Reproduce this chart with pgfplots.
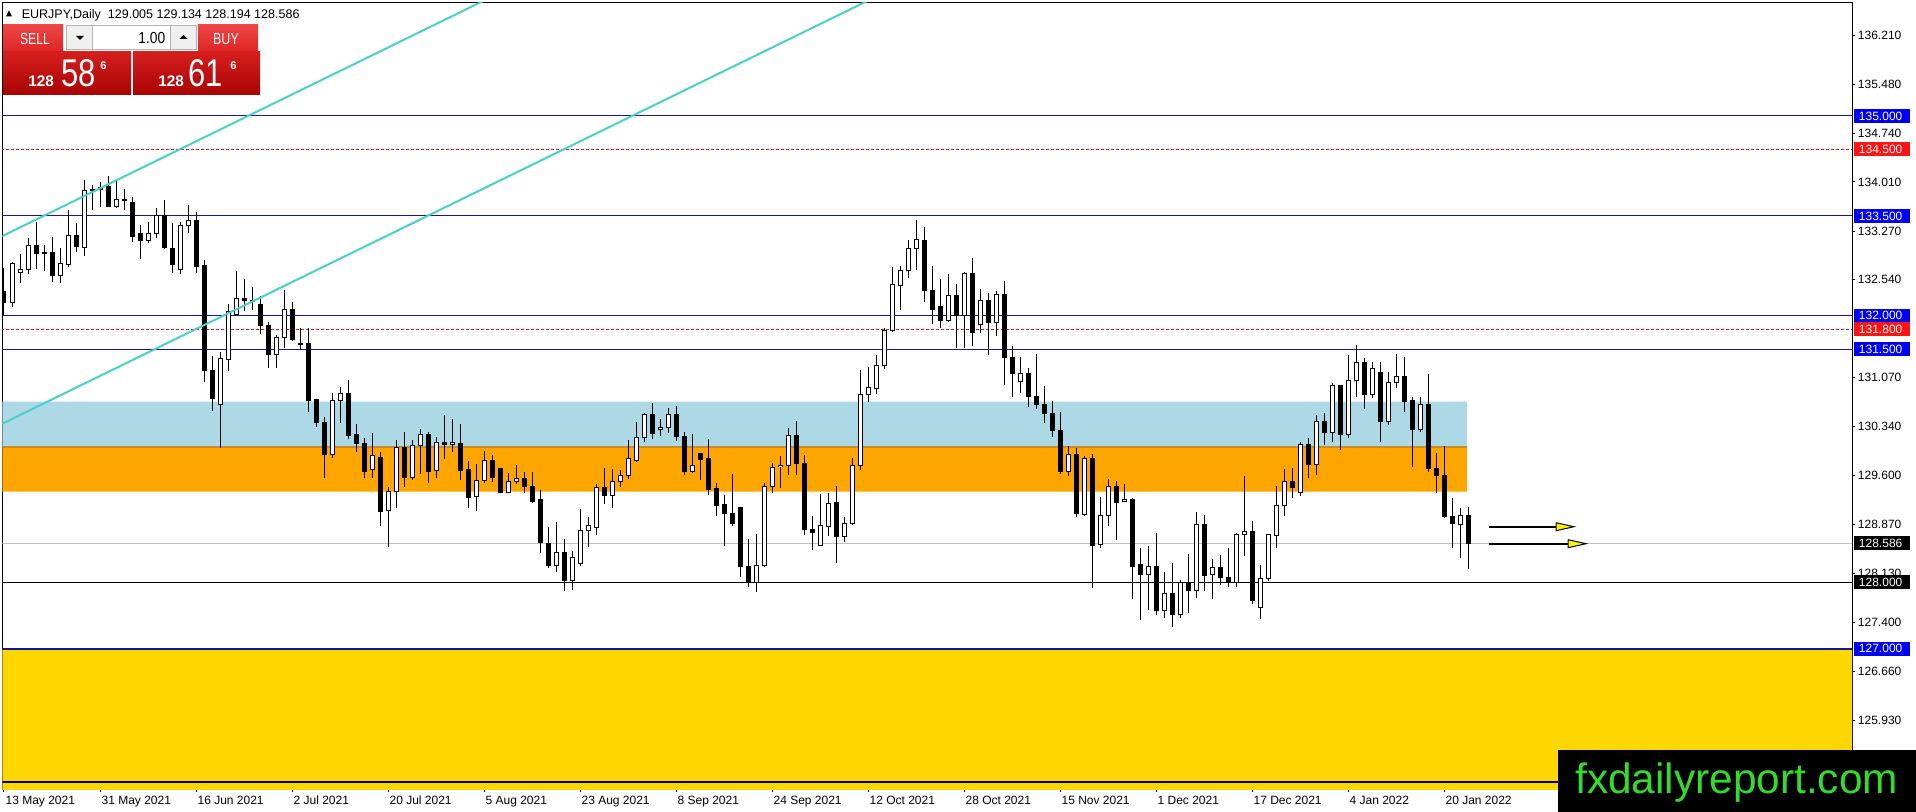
\documentclass[border=0pt]{standalone}
\usepackage{fontspec}
\setmainfont{Liberation Sans}
\usepackage{pgfplots}
\pgfplotsset{compat=1.18}
\usepackage{pgfplotstable}
\definecolor{mtblue}{RGB}{0,0,245}
\definecolor{lineblue}{RGB}{20,20,170}
\definecolor{mtred}{RGB}{250,20,20}
\definecolor{linered}{RGB}{220,20,20}
\definecolor{zoneblue}{RGB}{173,216,230}
\definecolor{zoneorange}{RGB}{255,165,0}
\definecolor{zoneedge}{RGB}{200,140,40}
\definecolor{zoneyellow}{RGB}{255,215,0}
\definecolor{chancyan}{RGB}{72,209,204}
\definecolor{wmgreen}{RGB}{50,220,40}
\definecolor{bidgray}{RGB}{192,192,192}
\definecolor{btnred}{RGB}{222,36,36}
\definecolor{btnredtop}{RGB}{238,70,70}
\definecolor{bigredtop}{RGB}{214,30,30}
\definecolor{bigredbot}{RGB}{168,4,4}

\pgfplotstableread{
i o h l c
0 132.362 132.713 132.012 132.202
1 132.202 132.813 132.137 132.778
2 132.653 132.923 132.488 132.698
3 132.698 133.173 132.633 133.048
4 133.048 133.403 132.698 132.933
5 132.953 133.063 132.673 132.933
6 132.953 133.183 132.513 132.603
7 132.603 133.013 132.488 132.778
8 132.763 133.589 132.738 133.213
9 133.213 133.388 132.963 133.038
10 133.028 134.039 132.903 133.874
11 133.874 133.964 133.589 133.889
12 133.889 134.014 133.639 133.924
13 133.939 134.099 133.639 133.639
14 133.639 134.039 133.614 133.739
15 133.744 133.904 133.589 133.729
16 133.704 133.779 133.113 133.188
17 133.238 133.363 132.853 133.128
18 133.128 133.403 133.098 133.238
19 133.238 133.614 133.173 133.499
20 133.499 133.739 133.003 133.023
21 133.013 133.388 132.638 132.773
22 132.698 133.403 132.623 133.363
23 133.353 133.664 133.248 133.433
24 133.433 133.554 132.648 132.738
25 132.748 132.838 131.001 131.176
26 131.176 131.396 130.571 130.761
27 130.661 131.451 130.010 131.361
28 131.346 132.172 131.171 132.062
29 132.022 132.673 132.012 132.262
30 132.262 132.553 132.072 132.232
31 132.212 132.437 132.087 132.237
32 132.177 132.302 131.727 131.852
33 131.852 131.912 131.221 131.421
34 131.421 131.712 131.221 131.677
35 131.677 132.387 131.521 132.087
36 132.087 132.202 131.622 131.637
37 131.587 131.812 131.487 131.572
38 131.587 131.812 130.561 130.721
39 130.736 130.736 130.335 130.395
40 130.400 130.485 129.560 129.910
41 129.910 130.836 129.860 130.721
42 130.721 130.936 130.395 130.836
43 130.836 131.036 130.150 130.210
44 130.220 130.370 129.960 130.085
45 130.085 130.160 129.560 129.660
46 129.685 130.235 129.570 129.895
47 129.875 129.950 128.849 129.059
48 129.079 129.434 128.534 129.359
49 129.359 130.135 129.109 130.020
50 130.020 130.250 129.434 129.575
51 129.575 130.135 129.535 130.050
52 130.060 130.300 129.620 130.220
53 130.225 130.260 129.494 129.660
54 129.670 130.185 129.560 130.100
55 130.105 130.510 129.845 130.070
56 130.070 130.445 129.960 130.105
57 130.085 130.375 129.534 129.675
58 129.685 129.825 129.109 129.274
59 129.284 129.775 129.074 129.534
60 129.534 129.970 129.494 129.820
61 129.820 129.910 129.510 129.570
62 129.710 129.710 129.334 129.344
63 129.349 129.635 129.334 129.519
64 129.519 129.760 129.469 129.560
65 129.560 129.660 129.334 129.434
66 129.434 129.650 129.184 129.209
67 129.249 129.384 128.443 128.594
68 128.584 128.834 128.208 128.248
69 128.248 128.899 128.158 128.448
70 128.448 128.644 127.873 128.033
71 128.033 128.468 127.883 128.373
72 128.283 129.099 128.248 128.769
73 128.774 128.984 128.534 128.844
74 128.824 129.474 128.709 129.424
75 129.424 129.720 129.174 129.299
76 129.299 129.695 129.109 129.519
77 129.509 129.685 129.434 129.595
78 129.595 130.135 129.544 129.850
79 129.825 130.401 129.810 130.175
80 130.170 130.536 130.110 130.511
81 130.511 130.686 130.145 130.235
82 130.295 130.446 130.200 130.325
83 130.325 130.611 130.245 130.511
84 130.511 130.646 130.125 130.185
85 130.195 130.260 129.610 129.660
86 129.660 130.225 129.635 129.745
87 129.925 129.925 129.535 129.845
88 129.850 130.145 129.309 129.385
89 129.400 129.485 128.994 129.159
90 129.174 129.309 128.549 129.024
91 129.034 129.625 128.844 128.874
92 129.124 129.124 128.073 128.233
93 128.243 128.644 127.933 127.993
94 127.993 128.724 127.858 128.253
95 128.248 129.485 128.233 129.435
96 129.435 129.795 129.335 129.725
97 129.735 129.895 129.420 129.755
98 129.750 130.310 129.610 130.210
99 130.210 130.421 129.610 129.785
100 129.785 129.910 128.709 128.784
101 128.794 128.994 128.484 128.744
102 128.549 129.325 128.549 128.844
103 128.834 129.345 128.694 129.184
104 129.199 129.445 128.283 128.684
105 128.684 128.984 128.609 128.884
106 128.874 129.860 128.859 129.750
107 129.750 131.186 129.685 130.821
108 130.821 131.226 130.701 130.926
109 130.911 131.411 130.826 131.261
110 131.251 131.822 131.196 131.772
111 131.772 132.738 131.762 132.472
112 132.462 132.748 132.087 132.673
113 132.673 133.138 132.573 133.003
114 133.003 133.438 132.688 133.138
115 133.123 133.328 132.212 132.377
116 132.387 132.748 131.872 132.097
117 132.147 132.553 131.812 131.927
118 131.927 132.628 131.912 132.312
119 132.312 132.478 131.512 131.997
120 131.997 132.663 131.512 132.628
121 132.628 132.873 131.552 131.747
122 131.872 132.397 131.737 132.237
123 132.237 132.337 131.412 131.897
124 131.902 132.372 131.702 132.327
125 132.327 132.522 130.961 131.371
126 131.376 131.552 130.786 131.136
127 131.011 131.386 130.836 131.136
128 131.136 131.211 130.626 130.786
129 130.786 131.426 130.601 130.671
130 130.671 130.951 130.386 130.536
131 130.536 130.721 130.185 130.275
132 130.285 130.550 129.625 129.660
133 129.660 130.050 129.595 129.920
134 129.920 130.010 128.984 129.034
135 129.019 129.895 128.994 129.860
136 129.860 129.925 127.918 128.549
137 128.559 129.274 128.509 128.999
138 128.999 129.550 128.844 129.434
139 129.434 129.525 128.634 129.199
140 129.219 129.475 129.199 129.244
141 129.249 129.269 127.743 128.233
142 128.273 128.509 127.433 128.118
143 128.118 128.544 127.583 128.243
144 128.243 128.734 127.508 127.573
145 127.573 128.158 127.458 127.833
146 127.823 128.283 127.322 127.518
147 127.508 128.033 127.458 127.998
148 127.998 128.418 127.543 127.873
149 127.873 129.049 127.758 128.869
150 128.869 129.009 127.873 128.098
151 128.118 128.343 127.748 128.218
152 128.223 128.408 127.958 128.073
153 128.073 128.518 127.933 127.998
154 127.998 128.744 127.933 128.719
155 128.719 129.594 128.398 128.759
156 128.759 128.919 127.673 127.718
157 127.623 128.258 127.447 128.058
158 128.058 128.720 128.020 128.709
159 128.699 129.444 128.509 129.159
160 129.149 129.700 129.000 129.519
161 129.519 129.710 129.269 129.419
162 129.349 130.110 129.299 130.075
163 130.075 130.160 129.560 129.770
164 129.770 130.510 129.610 130.420
165 130.420 130.535 130.060 130.250
166 130.250 130.986 130.110 130.946
167 130.946 130.961 129.985 130.220
168 130.220 131.411 130.170 131.021
169 131.021 131.562 130.786 131.301
170 131.301 131.361 130.601 130.821
171 130.821 131.301 130.761 131.211
172 131.151 131.301 130.110 130.410
173 130.410 131.151 130.360 131.001
174 131.001 131.421 130.911 131.086
175 131.086 131.386 130.561 130.711
176 130.721 130.786 129.735 130.295
177 130.295 130.776 130.250 130.661
178 130.671 131.121 129.650 129.710
179 129.710 129.935 129.334 129.600
180 129.600 130.050 128.969 128.984
181 128.984 129.259 128.509 128.884
182 128.869 129.109 128.359 128.999
183 129.005 129.134 128.194 128.586
}\candles

\begin{document}
\begin{tikzpicture}
\useasboundingbox (0,0) rectangle (1437pt,-609pt);
\begin{axis}[
  scale only axis,
  width=1387.125pt, height=589.725pt,
  at={(1.875pt,-2.025pt)}, anchor=north west,
  xmin=-0.1875, xmax=231, ymin=124.895, ymax=136.701,
  axis line style={black, line width=0.75pt},
  xtick={0,12,...,180},
  xticklabels={13 May 2021,31 May 2021,16 Jun 2021,2 Jul 2021,20 Jul 2021,5 Aug 2021,23 Aug 2021,8 Sep 2021,24 Sep 2021,12 Oct 2021,28 Oct 2021,15 Nov 2021,1 Dec 2021,17 Dec 2021,4 Jan 2022,20 Jan 2022},
  ytick={136.21,135.48,134.74,134.01,133.27,132.54,131.07,130.34,129.6,128.87,128.13,127.4,126.66,125.93},
  yticklabels={136.210,135.480,134.740,134.010,133.270,132.540,131.070,130.340,129.600,128.870,128.130,127.400,126.660,125.930},
  xtick pos=left, ytick pos=right, yticklabel pos=right,
  tick align=outside, major tick length=2.25pt,
  tick style={black, line width=0.75pt},
  ticklabel style={font=\fontsize{9}{10}\selectfont, inner sep=0pt},
  xticklabel style={anchor=north west, xshift=1pt, yshift=-3pt},
  yticklabel style={anchor=west, xshift=2pt},
  every axis plot/.append style={line cap=butt},
  candle/.style={draw=none, no marks, error bars/.cd, y dir=plus, y explicit, error mark=none, error bar style={solid, #1}},
]
% zones
\addplot [draw=none, fill=zoneblue] coordinates {(-1,130.04) (182.9,130.04) (182.9,130.71) (-1,130.71) (-1,130.04)};
\addplot [draw=none, fill=zoneorange] coordinates {(-1,129.36) (182.9,129.36) (182.9,130.04) (-1,130.04) (-1,129.36)};
\addplot [zoneedge, line width=1.5pt] coordinates {(-1,130.035) (182.9,130.035)};
\addplot [draw=none, fill=zoneyellow] coordinates {(-1,124.5) (240,124.5) (240,127.0) (-1,127.0) (-1,124.5)};
% horizontal levels
\addplot [lineblue, line width=0.75pt] coordinates {(-1,135) (240,135)};
\addplot [linered, line width=0.75pt, dash pattern=on 2.25pt off 1.5pt] coordinates {(-1,134.5) (240,134.5)};
\addplot [lineblue, line width=0.75pt] coordinates {(-1,133.5) (240,133.5)};
\addplot [lineblue, line width=0.75pt] coordinates {(-1,132) (240,132)};
\addplot [linered, line width=0.75pt, dash pattern=on 2.25pt off 1.5pt] coordinates {(-1,131.8) (240,131.8)};
\addplot [lineblue, line width=0.75pt] coordinates {(-1,131.5) (240,131.5)};
\addplot [bidgray, line width=0.75pt] coordinates {(-1,128.586) (240,128.586)};
\addplot [black, line width=0.75pt] coordinates {(-1,128) (240,128)};
\addplot [lineblue, line width=1.5pt] coordinates {(-1,127) (240,127)};
\addplot [black!70!blue, line width=1.5pt] coordinates {(-1,125.0) (240,125.0)};
% candle wicks
\addplot [candle={draw=black, line width=0.75pt}]
  table [x=i, y=l, y error expr={\thisrow{h}-\thisrow{l}}] {\candles};
% candle bodies
\addplot [candle={draw=black, line width=3.75pt}]
  table [x=i, y expr={min(\thisrow{o},\thisrow{c})-0.0075}, y error expr={abs(\thisrow{c}-\thisrow{o})+0.015}] {\candles};
% white interiors
\addplot [restrict expr to domain={\thisrow{c}-\thisrow{o}}{0.016:100}, candle={draw=white, line width=2.25pt}]
  table [x=i, y expr={\thisrow{o}+0.0075}, y error expr={\thisrow{c}-\thisrow{o}-0.015}] {\candles};
% channel lines
\addplot [chancyan, line width=1.5pt] coordinates {(-0.5,133.180) (62,136.85)};
\addplot [chancyan, line width=1.5pt] coordinates {(-0.5,130.363) (110,136.849)};
% arrows
\addplot [black, line width=1.5pt] coordinates {(185.6,128.833) (194.2,128.833)};
\addplot [black, line width=0.75pt, fill=yellow] coordinates {(194,128.893) (196.25,128.833) (194,128.773) (194,128.893)};
\addplot [black, line width=1.5pt] coordinates {(185.6,128.578) (195.7,128.578)};
\addplot [black, line width=0.75pt, fill=yellow] coordinates {(195.5,128.638) (197.75,128.578) (195.5,128.518) (195.5,128.638)};
% label anchors
\coordinate (L1) at (axis cs:231,135.0);
\coordinate (L2) at (axis cs:231,134.5);
\coordinate (L3) at (axis cs:231,133.5);
\coordinate (L4) at (axis cs:231,132.0);
\coordinate (L5) at (axis cs:231,131.8);
\coordinate (L6) at (axis cs:231,131.5);
\coordinate (L7) at (axis cs:231,128.586);
\coordinate (L8) at (axis cs:231,128.0);
\coordinate (L9) at (axis cs:231,127.0);
\end{axis}
% price labels
\foreach \p/\t/\c in {L1/135.000/mtblue, L2/134.500/mtred, L3/133.500/mtblue, L4/132.000/mtblue, L5/131.800/mtred, L6/131.500/mtblue, L7/128.586/black, L8/128.000/black, L9/127.000/mtblue}{
  \fill[\c] ([xshift=1.5pt,yshift=-5.25pt]\p) rectangle ([xshift=43.5pt,yshift=5.25pt]\p);
  \node[anchor=west, inner sep=0pt, text=white, font=\fontsize{9}{10}\selectfont] at ([xshift=5pt]\p) {\t};
}
\begin{scope}[x=0.75pt, y=-0.75pt]
  % header
  \fill[black] (6,16.5) -- (12,16.5) -- (9,10.5) -- cycle;
  \node[anchor=base west, inner sep=0pt, font=\fontsize{9.4}{10}\selectfont] at (21.5,18.3) {EURJPY,Daily\ \ 129.005 129.134 128.194 128.586};
  % trade panel
  \shade[top color=btnredtop, bottom color=btnred] (3,25) rectangle (63,52);
  \shade[top color=btnredtop, bottom color=btnred] (198,25) rectangle (258,52);
  \draw[white!75!red, line width=0.75pt] (10,51.5) -- (62,51.5);
  \draw[white!75!red, line width=0.75pt] (200,51.5) -- (253,51.5);
  \filldraw[fill=black!6, draw=black!30, line width=0.75pt] (66,25.5) rectangle (92,50);
  \filldraw[fill=white, draw=black!30, line width=0.75pt] (92,25.5) rectangle (170,50);
  \filldraw[fill=black!6, draw=black!30, line width=0.75pt] (170,25.5) rectangle (196,50);
  \fill[black] (76,36) -- (84,36) -- (80,40) -- cycle;
  \fill[black] (179.5,39) -- (187.5,39) -- (183.5,35) -- cycle;
  \node[anchor=base, inner sep=0pt, text=white, font=\fontsize{12}{13}\selectfont] at (35,45) {\scalebox{0.76}[1]{SELL}};
  \node[anchor=base, inner sep=0pt, text=white, font=\fontsize{12}{13}\selectfont] at (226,45) {\scalebox{0.78}[1]{BUY}};
  \node[anchor=base east, inner sep=0pt, font=\fontsize{12}{13}\selectfont] at (165.5,43.5) {\scalebox{0.86}[1]{1.00}};
  \shade[top color=bigredtop, bottom color=bigredbot] (3,52) rectangle (131,95);
  \shade[top color=bigredtop, bottom color=bigredbot] (133,52) rectangle (260,95);
  \node[anchor=base west, inner sep=0pt, text=white, font=\fontsize{11.5}{12}\selectfont\bfseries] at (28,87) {128};
  \node[anchor=base west, inner sep=0pt, text=white, font=\fontsize{29}{30}\selectfont] at (61,87) {\scalebox{0.8}[1]{58}};
  \node[anchor=base west, inner sep=0pt, text=white, font=\fontsize{8.4}{9}\selectfont\bfseries] at (100,70) {6};
  \node[anchor=base west, inner sep=0pt, text=white, font=\fontsize{11.5}{12}\selectfont\bfseries] at (158,87) {128};
  \node[anchor=base west, inner sep=0pt, text=white, font=\fontsize{29}{30}\selectfont] at (188,87) {\scalebox{0.8}[1]{61}};
  \node[anchor=base west, inner sep=0pt, text=white, font=\fontsize{8.4}{9}\selectfont\bfseries] at (230,70) {6};
  % watermark
  \fill[black] (1558,750) rectangle (1916,812);
  \node[anchor=base west, inner sep=0pt, text=wmgreen, font=\fontsize{31.8}{33}\selectfont] at (1575,793) {fxdailyreport.com};
\end{scope}
\end{tikzpicture}
\end{document}
